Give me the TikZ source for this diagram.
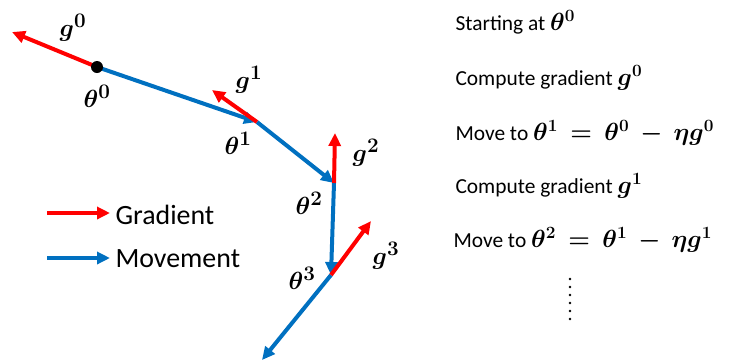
\documentclass[tikz,border=0pt]{standalone}
\usepackage{fontspec}
\usepackage{amsmath,bm}
\setmainfont{Carlito}
\usetikzlibrary{arrows.meta}
\definecolor{gradred}{RGB}{255,0,0}
\definecolor{moveblue}{RGB}{0,112,192}
\newcommand{\bigbm}[1]{{\fontsize{26}{30}\selectfont$\bm{#1}$}}
\begin{document}
\begin{tikzpicture}[x=1bp,y=-1bp,line join=round,
	grad/.style={gradred,line width=4bp,-{Triangle[length=13bp,width=12bp]}},
	move/.style={moveblue,line width=4bp,-{Triangle[length=13bp,width=12bp]}},
	lab/.style={font=\fontsize{28}{32}\selectfont},
	legend text/.style={anchor=west,font=\fontsize{28}{32}\selectfont},
	recipe/.style={anchor=west,font=\fontsize{21.5}{26}\selectfont}]
	\useasboundingbox (0,0) rectangle (730,362);
	% points along the path
	\coordinate (T0) at (97,67);
	\coordinate (T1) at (257,122);
	\coordinate (T2) at (334,183);
	\coordinate (T3) at (331,275);
	\coordinate (T4) at (262,360);
	% tips of the gradients
	\coordinate (G0) at (12,32);
	\coordinate (G1) at (212,90);
	\coordinate (G2) at (335,133);
	\coordinate (G3) at (371,221);
	
	\draw[move] (T0) -- (T1);
	\draw[move] (T1) -- (T2);
	\draw[move] (T2) -- (T3);
	\draw[move] (T3) -- (T4);
	
	\draw[grad] (T0) -- (G0);
	\draw[grad] (T1) -- (G1);
	\draw[grad] (T2) -- (G2);
	\draw[grad] (T3) -- (G3);
	
	\fill (T0) circle (6bp);
	
	\node[lab] (g0) at (73,28) {$\bm{g^0}$};
	\node[lab] (t0) at (97,96) {$\bm{\theta^0}$};
	\node[lab] (g1) at (249,80) {$\bm{g^1}$};
	\node[lab] (t1) at (238,143) {$\bm{\theta^1}$};
	\node[lab] (g2) at (366,153) {$\bm{g^2}$};
	\node[lab] (t2) at (309,203) {$\bm{\theta^2}$};
	\node[lab] (t3) at (302,278) {$\bm{\theta^3}$};
	\node[lab] (g3) at (386,256) {$\bm{g^3}$};
	
	% legend
	\coordinate (LR0) at (47,213);
	\coordinate (LR1) at (110,213);
	\coordinate (LB0) at (47,258);
	\coordinate (LB1) at (110,258);
	\draw[grad] (LR0) -- (LR1);
	\draw[move] (LB0) -- (LB1);
	\node[legend text] (lgrad) at (112,215) {Gradient};
	\node[legend text] (lmove) at (112,259) {Movement};
	
	% steps on the right
	\node[recipe] (s1) at (452,22) {Starting at \bigbm{\theta^0}};
	\node[recipe] (s2) at (452,78) {Compute gradient \bigbm{g^0}};
	\node[recipe] (s3) at (452,133) {Move to \bigbm{\theta^1 \:=\: \theta^0 \:-\: \eta g^0}};
	\node[recipe] (s4) at (452,186) {Compute gradient \bigbm{g^1}};
	\node[recipe] (s5) at (450,240) {Move to \bigbm{\theta^2 \:=\: \theta^1 \:-\: \eta g^1}};
	\foreach \k in {0,...,5}
	\fill (570,279+8*\k) circle (1.4bp);
\end{tikzpicture}
\end{document}
